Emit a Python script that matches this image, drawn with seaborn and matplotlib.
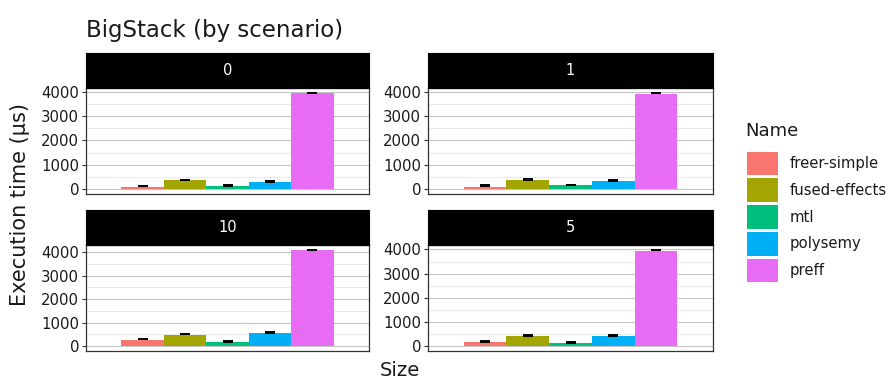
import numpy as np
import pandas as pd
import matplotlib
matplotlib.use("Agg")
import matplotlib.pyplot as plt
import seaborn as sns
from matplotlib.patches import Patch
from matplotlib.ticker import MultipleLocator

# ---- data -------------------------------------------------------------
names = ["freer-simple", "fused-effects", "mtl", "polysemy", "preff"]
palette = ["#F8766D", "#A3A500", "#00BF7D", "#00B0F6", "#E76BF3"]
scenarios = ["0", "1", "10", "5"]

# mean execution time per library (µs)
time_0 = [105, 377, 134, 284, 3930]
time_1 = [93, 390, 162, 350, 3920]
time_10 = [270, 497, 170, 567, 4085]
time_5 = [153, 413, 140, 430, 3955]

# error bar bounds (µs)
err_lo_0 = [125, 375, 150, 295, 3925]
err_hi_0 = [150, 395, 175, 315, 3950]
err_lo_1 = [140, 390, 170, 345, 3930]
err_hi_1 = [165, 410, 190, 365, 3950]
err_lo_10 = [295, 500, 195, 580, 4085]
err_hi_10 = [315, 520, 215, 600, 4100]
err_lo_5 = [175, 425, 150, 430, 3965]
err_hi_5 = [195, 445, 170, 450, 3985]

times = {"0": time_0, "1": time_1, "10": time_10, "5": time_5}
err_lo = {"0": err_lo_0, "1": err_lo_1, "10": err_lo_10, "5": err_lo_5}
err_hi = {"0": err_hi_0, "1": err_hi_1, "10": err_hi_10, "5": err_hi_5}

rows = []
for s in scenarios:
    for n, t, lo, hi in zip(names, times[s], err_lo[s], err_hi[s]):
        rows.append({"Scenario": s, "Name": n, "Size": "", "time": t,
                     "lo": lo, "hi": hi})
df = pd.DataFrame(rows)

# ---- figure -----------------------------------------------------------
sns.set_style("white")
plt.rcParams["font.family"] = ["DejaVu Sans"]

W, H = 889, 379
fig = plt.figure(figsize=(W / 100, H / 100), dpi=100)


def frac(x0, y_top, w, h):
    return [x0 / W, (H - y_top - h) / H, w / W, h / H]


# panel layout: (left px, strip top px, width px)
layout = {"0": (86, 53, 283), "1": (428, 53, 285),
          "10": (86, 210, 283), "5": (428, 210, 285)}
STRIP_H = 35
PANEL_H = 106
TEXT = "#1a1a1a"

for s in scenarios:
    x0, top, w = layout[s]
    ax = fig.add_axes(frac(x0, top + STRIP_H, w, PANEL_H))
    sub = df[df["Scenario"] == s]
    sns.barplot(data=sub, x="Size", y="time", hue="Name", hue_order=names,
                palette=palette, width=0.9, saturation=1, errorbar=None,
                linewidth=0, legend=False, ax=ax, zorder=2)

    # error bars at each bar centre
    centers = sorted(p.get_x() + p.get_width() / 2 for p in ax.patches)
    lo = sub["lo"].to_numpy()
    hi = sub["hi"].to_numpy()
    ax.errorbar(centers, (lo + hi) / 2, yerr=(hi - lo) / 2, fmt="none",
                ecolor="black", elinewidth=1.4, capsize=3.4, capthick=1.4,
                zorder=3)

    m = hi.max()
    ax.set_ylim(-0.05 * m, 1.05 * m)
    ax.set_xlim(-0.6, 0.6)
    ax.yaxis.set_major_locator(MultipleLocator(1000))
    ax.yaxis.set_minor_locator(MultipleLocator(500))
    ax.grid(which="major", axis="y", color="#c4c4c4", lw=0.8, zorder=0)
    ax.grid(which="minor", axis="y", color="#e6e6e6", lw=0.6, zorder=0)
    ax.set_axisbelow(True)
    ax.set_xticks([])
    ax.set_xlabel("")
    ax.set_ylabel("")
    ax.tick_params(axis="y", which="major", length=3, width=0.8,
                   color="#333333", pad=2, labelsize=10.7, labelcolor=TEXT,
                   left=True)
    ax.tick_params(axis="y", which="minor", length=0)
    for sp in ax.spines.values():
        sp.set_visible(True)
        sp.set_color("#333333")
        sp.set_linewidth(0.9)

    # facet strip
    sax = fig.add_axes(frac(x0, top, w, STRIP_H))
    sax.set_facecolor("black")
    sax.set_xticks([])
    sax.set_yticks([])
    for sp in sax.spines.values():
        sp.set_color("black")
    sax.text(0.5, 0.5, s, color="white", ha="center", va="center",
             fontsize=10.5, transform=sax.transAxes)

# titles
fig.text(86 / W, 1 - 37 / H, "BigStack (by scenario)", fontsize=16.5,
         color=TEXT, ha="left", va="baseline")
fig.text(400 / W, 1 - 370 / H, "Size", fontsize=14, color=TEXT,
         ha="center", va="center")
fig.text(20 / W, 1 - 204 / H, "Execution time (µs)", fontsize=15,
         color=TEXT, ha="center", va="center", rotation=90)

# legend
fig.text(745 / W, 1 - 136.5 / H, "Name", fontsize=13, color=TEXT,
         ha="left", va="baseline")
handles = [Patch(facecolor=c, edgecolor="none", label=n)
           for n, c in zip(names, palette)]
leg = fig.legend(handles=handles, loc="upper left",
                 bbox_to_anchor=(747 / W, 1 - 151.7 / H), frameon=False,
                 fontsize=10.7, handlelength=2.08, handleheight=2.08,
                 labelspacing=0.2, handletextpad=0.8, borderpad=0,
                 borderaxespad=0)
for t in leg.get_texts():
    t.set_color(TEXT)

fig.savefig("out.png", dpi=100)
